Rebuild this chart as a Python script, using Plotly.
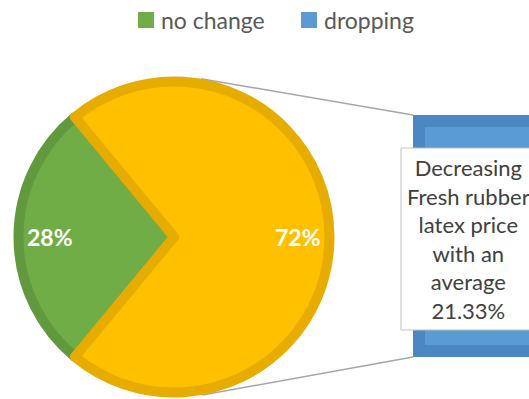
import math
import plotly.graph_objects as go

W, H = 529, 399

# ---- data -------------------------------------------------------------
categories = ["no change", "dropping"]
shares = [28, 72]                     # percent of respondents
slice_colors = ["#70AD47", "#FFC000"]
slice_edges = ["#62993E", "#E6AC00"]
legend_colors = ["#70AD47", "#5B9BD5"]
bar_value = shares[1]                 # the "dropping" share expanded into the bar
callout_lines = ["Decreasing", "Fresh rubber", "latex price",
                 "with an", "average", "21.33%"]

FONT = "Lato"


def px_x(x):
    return x / W


def px_y(y):
    return 1 - y / H


# ---- pie ----------------------------------------------------------------
cx, cy, r = 174, 237, 155.5           # centre and radius in pixels
edge_w = 10
total = sum(shares)
start = 270 - shares[0] / total * 180  # first slice centred at 9 o'clock

pie = go.Pie(
    labels=categories,
    values=shares,
    sort=False,
    direction="clockwise",
    rotation=start,
    marker=dict(colors=slice_colors, line=dict(color=slice_edges, width=edge_w)),
    textinfo="none",
    hoverinfo="label+percent",
    showlegend=False,
    domain=dict(x=[px_x(cx - r), px_x(cx + r)], y=[px_y(cy + r), px_y(cy - r)]),
)

annotations = []
shapes = []

acc = 0
for v in shares:
    mid = math.radians(start + (acc + v / 2) / total * 360)
    acc += v
    lx = cx + 0.8 * r * math.sin(mid)
    ly = cy - 0.8 * r * math.cos(mid)
    annotations.append(dict(
        x=px_x(lx), y=px_y(ly), xref="paper", yref="paper",
        xanchor="center", yanchor="middle",
        text=f"{v}%", showarrow=False,
        font=dict(family=FONT, size=23, color="white", weight="bold"),
    ))

# ---- bar of pie -----------------------------------------------------------
bar_w = 12                             # bar outline width
bar_left, bar_top, bar_bottom = 413, 115, 357
pad_units = 6
k = ((bar_bottom - bar_w / 2) - (bar_top + bar_w / 2)) / bar_value
y_dom_bottom = (bar_bottom - bar_w / 2) + pad_units * k
y_dom_top = (bar_top + bar_w / 2) - pad_units * k
x_dom_left = 390
s = 150
x_edge = bar_left + bar_w / 2

bar = go.Bar(
    x=[0], y=[bar_value], width=[1],
    marker=dict(color="#5B9BD5", line=dict(color="#4C87C3", width=bar_w)),
    name=categories[1], showlegend=False, hoverinfo="y",
)

# connector lines: tangents from the bar corners to the pie rim
R_out = r + edge_w / 2
for corner_y, sign in ((bar_top, 1), (bar_bottom, -1)):
    dx = bar_left - cx
    dy = cy - corner_y
    d = math.hypot(dx, dy)
    ang = math.atan2(dy, dx) + sign * math.acos(R_out / d)
    tx = cx + R_out * math.cos(ang)
    ty = cy - R_out * math.sin(ang)
    shapes.append(dict(
        type="line", xref="paper", yref="paper", layer="below",
        x0=px_x(tx), y0=px_y(ty), x1=px_x(bar_left), y1=px_y(corner_y),
        line=dict(color="#A6A6A6", width=1.5),
    ))

# callout box with the bar's label
box = (401, 148, 535, 330)
shapes.append(dict(
    type="rect", xref="paper", yref="paper", layer="above",
    x0=px_x(box[0]), x1=px_x(box[2]), y0=px_y(box[3]), y1=px_y(box[1]),
    fillcolor="white", line=dict(color="#BFBFBF", width=1),
))
annotations.append(dict(
    x=px_x((box[0] + box[2]) / 2), y=px_y((box[1] + box[3]) / 2),
    xref="paper", yref="paper", xanchor="center", yanchor="middle",
    showarrow=False, align="center",
    text="<br>".join(callout_lines),
    font=dict(family=FONT, size=22, color="#404040"),
))

# ---- legend ---------------------------------------------------------------
legend_x = [138, 301]
sq = 16
for name, col, lx in zip(categories, legend_colors, legend_x):
    shapes.append(dict(
        type="rect", xref="paper", yref="paper",
        x0=px_x(lx), x1=px_x(lx + sq), y0=px_y(13 + sq - 1), y1=px_y(13 - 1),
        fillcolor=col, line=dict(width=0),
    ))
    annotations.append(dict(
        x=px_x(lx + sq + 5), y=px_y(20), xref="paper", yref="paper",
        xanchor="left", yanchor="middle", showarrow=False, text=name,
        font=dict(family=FONT, size=23, color="#595959"),
    ))

fig = go.Figure([pie, bar])
fig.update_layout(
    width=W, height=H, autosize=False,
    margin=dict(l=0, r=0, t=0, b=0),
    paper_bgcolor="white", plot_bgcolor="rgba(0,0,0,0)",
    xaxis=dict(visible=False, domain=[px_x(x_dom_left), 1],
               range=[-0.5 - (x_edge - x_dom_left) / s, -0.5 + (W - x_edge) / s]),
    yaxis=dict(visible=False, domain=[px_y(y_dom_bottom), px_y(y_dom_top)],
               range=[-pad_units, bar_value + pad_units]),
    shapes=shapes,
    annotations=annotations,
    showlegend=False,
)

fig.write_html("out.html")
